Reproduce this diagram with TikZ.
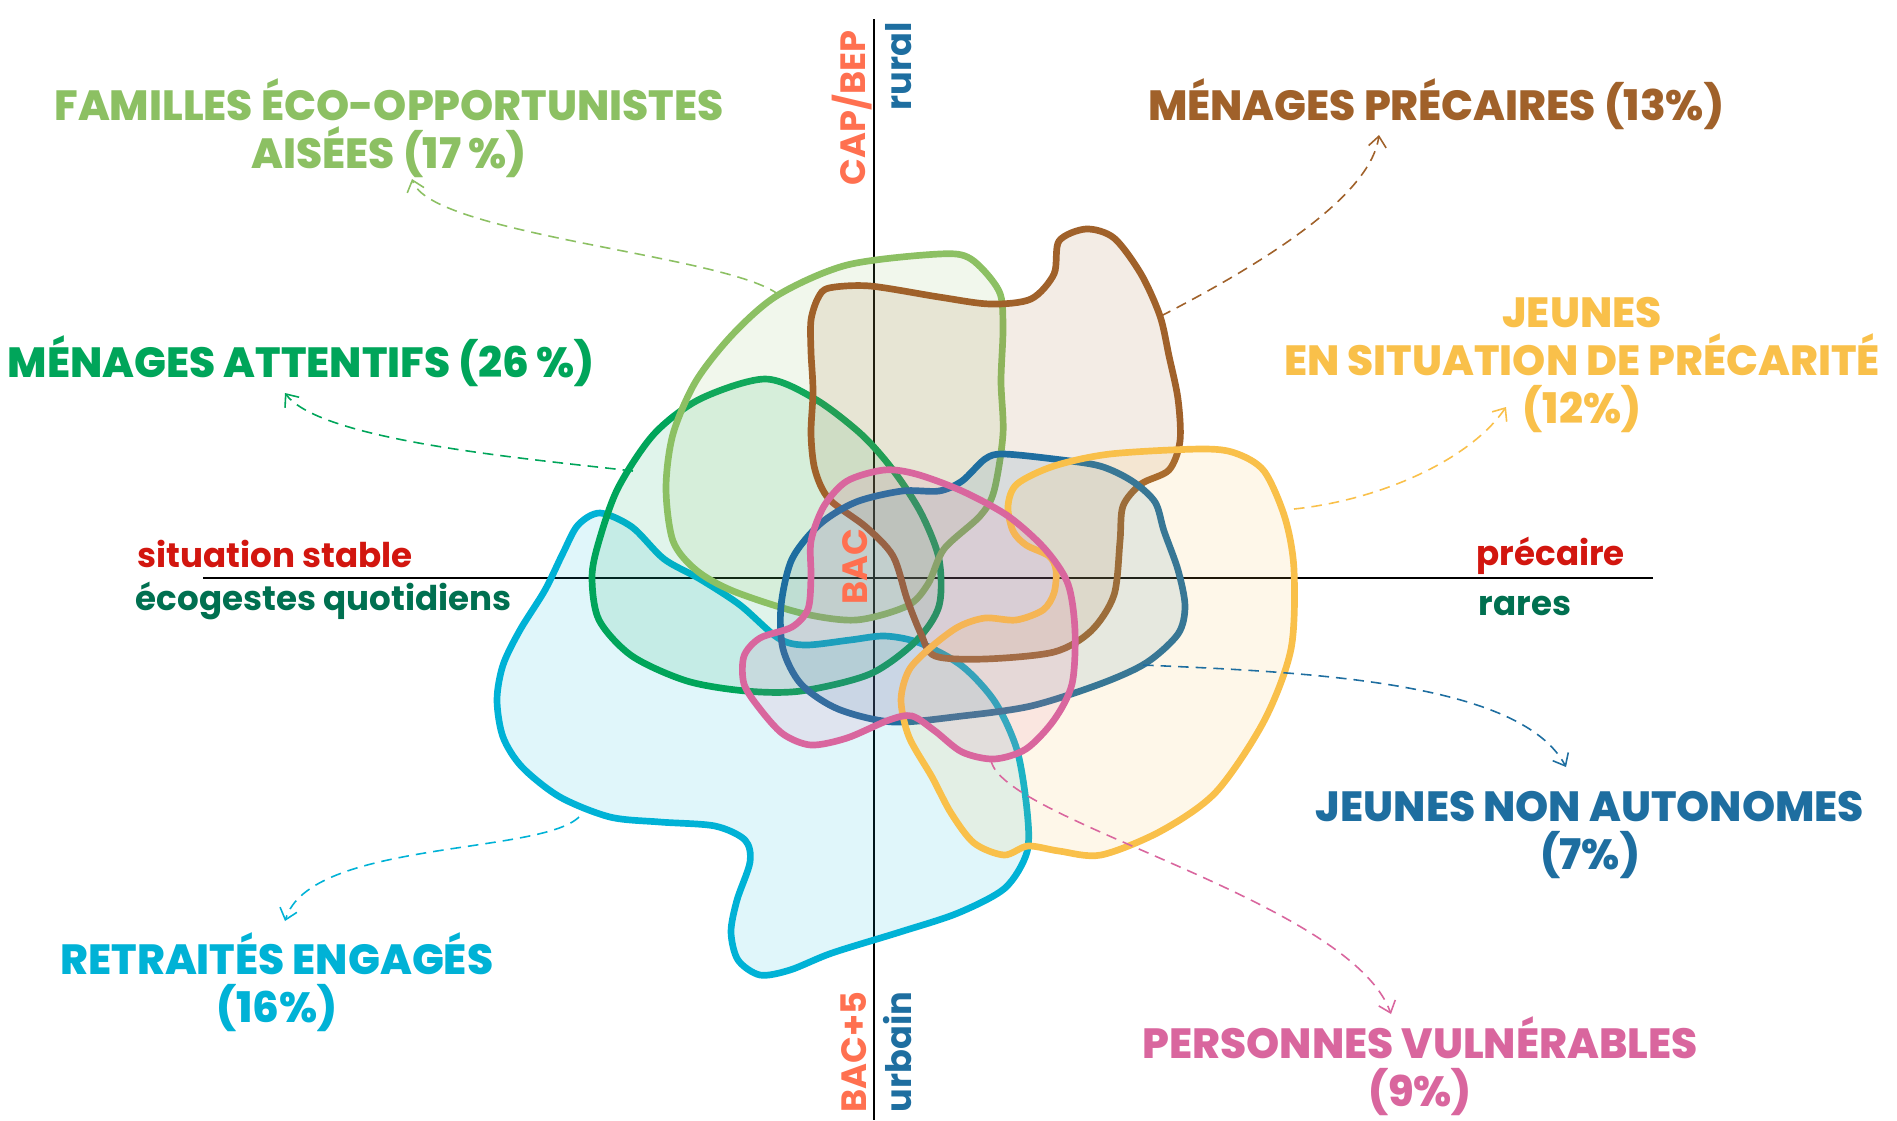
\documentclass[tikz,border=0pt]{standalone}
\usepackage{fontspec}
\setmainfont{Poppins}
\newfontfamily\groupfont{Poppins ExtraBold}
\usepackage{tikz}
\usetikzlibrary{arrows.meta, positioning}
\definecolor{ecofam}{RGB}{140,192,99}
\definecolor{attentif}{RGB}{0,165,90}
\definecolor{precaire}{RGB}{160,97,42}
\definecolor{jeunesprec}{RGB}{249,192,74}
\definecolor{nonauto}{RGB}{30,110,160}
\definecolor{vulnerable}{RGB}{217,102,158}
\definecolor{retraite}{RGB}{0,178,214}
\definecolor{axisred}{RGB}{210,22,15}
\definecolor{axisgreen}{RGB}{0,112,80}
\definecolor{axisorange}{RGB}{255,112,80}

\begin{document}
\begin{tikzpicture}[
  x=0.01cm, y=-0.01cm,
  blob/.style={line width=1.9pt, draw=#1, fill=#1, fill opacity=0.12},
  group/.style={font=\fontsize{12}{13.7}\selectfont\groupfont, text=#1, align=center, inner sep=0pt},
  axislab/.style={font=\fontsize{9.7}{12}\selectfont\bfseries, text=#1, inner sep=0pt, anchor=base west},
  levellab/.style={font=\fontsize{10}{12}\selectfont\bfseries, text=#1, inner sep=0pt, rotate=90, anchor=base west},
  link/.style={-{Straight Barb[length=3pt,width=5pt]}, line width=0.45pt, dash pattern=on 3pt off 2pt, draw=#1}
]
  \useasboundingbox (0,0) rectangle (1897,1120);

  \coordinate (west) at (203,578);
  \coordinate (east) at (1653,578);
  \coordinate (north) at (874,19);
  \coordinate (south) at (874,1120);
  \draw[line width=0.8pt] (west) -- (east);
  \draw[line width=0.8pt] (north) -- (south);

  \draw[blob=retraite] plot[smooth cycle] coordinates {(600,513) (632,527) (664,559) (700,579) (740,605) (778,638) (805,645) (850,640) (885,636) (920,643) (962,666) (995,702) (1017,750) (1027,810) (1027,852) (1005,888) (958,913) (900,932) (832,953) (790,970) (760,975) (738,960) (731,932) (737,900) (750,862) (745,840) (715,826) (660,822) (610,817) (560,797) (522,767) (503,737) (497,700) (503,665) (520,630) (545,590) (563,553) (578,525)};
  \draw[blob=attentif] plot[smooth cycle] coordinates {(765,379) (815,399) (861,434) (893,470) (921,513) (939,559) (939,606) (916,641) (870,674) (801,691) (746,691) (687,681) (632,656) (599,620) (592,577) (599,541) (618,488) (654,434) (700,399)};
  \draw[blob=ecofam] plot[smooth cycle] coordinates {(778,295) (847,265) (939,254) (971,259) (999,291) (1003,327) (1001,381) (1003,434) (994,491) (980,516) (944,549) (928,584) (907,606) (856,620) (801,613) (733,591) (696,570) (673,541) (666,488) (673,434) (696,381) (733,334)};
  \draw[blob=precaire] plot[smooth cycle] coordinates {(829,288) (870,286) (939,297) (990,304) (1031,299) (1054,274) (1059,241) (1086,229) (1114,238) (1141,274) (1160,316) (1169,356) (1178,399) (1180,441) (1169,470) (1141,484) (1123,506) (1120,541) (1114,595) (1091,631) (1054,652) (985,659) (935,656) (921,634) (907,599) (893,556) (866,527) (829,499) (815,470) (811,434) (813,391) (811,352) (811,320) (818,298)};
  \draw[blob=nonauto] plot[smooth cycle] coordinates {(962,481) (985,459) (1003,454) (1054,459) (1100,466) (1132,481) (1155,502) (1164,531) (1178,570) (1185,606) (1178,634) (1146,663) (1100,684) (1031,706) (962,716) (893,722) (838,709) (801,684) (783,649) (781,606) (792,559) (820,524) (856,502) (902,491) (939,491)};
  \draw[blob=jeunesprec] plot[smooth cycle] coordinates {(1008,506) (1017,484) (1054,466) (1110,454) (1200,449) (1235,453) (1264,471) (1285,518) (1294,570) (1291,649) (1264,721) (1216,792) (1161,831) (1101,855) (1059,851) (1028,846) (1004,855) (974,843) (951,813) (932,777) (909,737) (901,700) (909,670) (930,648) (958,627) (985,618) (1016,620) (1043,610) (1054,593) (1056,570) (1049,556) (1026,545) (1013,531)};
  \draw[blob=vulnerable] plot[smooth cycle] coordinates {(884,470) (916,474) (962,491) (1008,516) (1045,549) (1068,584) (1075,631) (1072,684) (1054,720) (1026,749) (994,759) (962,752) (935,731) (912,716) (889,720) (847,738) (811,745) (783,734) (760,709) (744,684) (744,656) (760,638) (792,627) (808,609) (811,577) (811,541) (824,506) (847,481)};

  \node[axislab=axisred] (stable) at (137,567) {situation stable};
  \node[axislab=axisgreen] (quotidiens) at (135,610) {écogestes quotidiens};
  \node[axislab=axisred] (precarite) at (1476,565) {précaire};
  \node[axislab=axisgreen] (rares) at (1478,615) {rares};
  \node[levellab=axisorange] (capbep) at (865,186) {CAP/BEP};
  \node[levellab=nonauto] (rural) at (911,111) {rural};
  \node[levellab=axisorange] (bac) at (867,605) {BAC};
  \node[levellab=axisorange] (bacplus) at (866,1113) {BAC+5};
  \node[levellab=nonauto] (urbain) at (911,1113) {urbain};

  \node[group=ecofam] (fam) at (389,128) {FAMILLES ÉCO-OPPORTUNISTES\\AISÉES (17\,\%)};
  \node[group=attentif] (att) at (301,361) {MÉNAGES ATTENTIFS (26\,\%)};
  \node[group=precaire] (pre) at (1436,104) {MÉNAGES PRÉCAIRES (13\%)};
  \node[group=jeunesprec] (jsp) at (1582,365) {JEUNES\\EN SITUATION DE PRÉCARITÉ\\(12\%)};
  \node[group=nonauto] (jna) at (1590,835) {JEUNES NON AUTONOMES\\(7\%)};
  \node[group=retraite] (ret) at (277,982) {RETRAITÉS ENGAGÉS\\(16\%)};
  \node[group=vulnerable] (vul) at (1420,1066) {PERSONNES VULNÉRABLES\\(9\%)};

  \coordinate (fam-src) at (779,295);
  \coordinate (fam-tip) at (412,179);
  \coordinate (att-src) at (633,471);
  \coordinate (att-tip) at (285,393);
  \coordinate (pre-src) at (1161,316);
  \coordinate (pre-tip) at (1379,135);
  \coordinate (jsp-src) at (1294,509);
  \coordinate (jsp-tip) at (1506,407);
  \coordinate (jna-src) at (1143,665);
  \coordinate (jna-tip) at (1566,767);
  \coordinate (vul-src) at (991,760);
  \coordinate (vul-tip) at (1391,1014);
  \coordinate (ret-src) at (579,817);
  \coordinate (ret-tip) at (285,921);

  \draw[link=ecofam] (fam-src) .. controls (730,255) and (430,235) .. (fam-tip);
  \draw[link=attentif] (att-src) .. controls (520,458) and (320,440) .. (att-tip);
  \draw[link=precaire] (pre-src) .. controls (1250,270) and (1370,200) .. (pre-tip);
  \draw[link=jeunesprec] (jsp-src) .. controls (1380,500) and (1470,460) .. (jsp-tip);
  \draw[link=nonauto] (jna-src) .. controls (1300,672) and (1520,680) .. (jna-tip);
  \draw[link=vulnerable] (vul-src) .. controls (1000,820) and (1350,900) .. (vul-tip);
  \draw[link=retraite] (ret-src) .. controls (540,855) and (310,840) .. (ret-tip);
\end{tikzpicture}
\end{document}
